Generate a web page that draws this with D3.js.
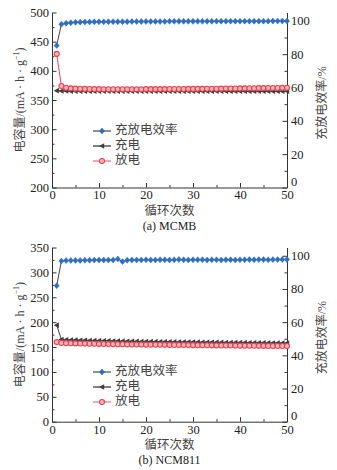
<!DOCTYPE html>
<html>
<head>
<meta charset="utf-8">
<script src="https://cdn.jsdelivr.net/npm/d3@7"></script>
<style>
  body { margin: 0; background: #fff; }
  svg { display: block; }
</style>
</head>
<body>
<svg id="chart" width="337" height="470"></svg>
<script>
// cycles 1..50
const cycles = d3.range(1, 51);

// (a) MCMB
const effA = [85.2, 98.0, 98.6, 98.9, 99.1, 99.2, 99.3, 99.3, 99.4, 99.4,
  99.4, 99.5, 99.5, 99.5, 99.5, 99.5, 99.6, 99.6, 99.6, 99.6,
  99.6, 99.6, 99.6, 99.6, 99.7, 99.7, 99.7, 99.7, 99.7, 99.7,
  99.7, 99.7, 99.7, 99.7, 99.8, 99.8, 99.8, 99.8, 99.8, 99.8,
  99.8, 99.8, 99.8, 99.8, 99.8, 99.8, 99.9, 99.9, 99.9, 99.9];
const chargeA = [366, 365.5, 365.5, 365, 365, 365, 365, 365, 365, 365,
  365, 365, 365, 365, 365, 365, 365, 365, 365, 365,
  365, 365, 365, 365, 365, 365, 365, 365, 365, 365,
  365, 365, 365, 365, 365, 365, 365, 365, 365, 365,
  365, 365, 365, 365, 365, 365, 365, 365, 365, 365];
const dischargeA = [429, 374, 371, 370, 369.5, 369.2, 369, 368.8, 368.7, 368.6,
  368.5, 368.5, 368.5, 368.5, 368.5, 368.5, 368.5, 368.5, 368.5, 368.6,
  368.6, 368.6, 368.7, 368.7, 368.8, 368.8, 368.9, 368.9, 369, 369,
  369.1, 369.1, 369.2, 369.3, 369.4, 369.5, 369.6, 369.7, 369.8, 369.9,
  370, 370.1, 370.2, 370.3, 370.4, 370.5, 370.6, 370.7, 370.8, 371];

// (b) NCM811
const effB = [82.0, 96.8, 97.1, 97.2, 97.2, 97.2, 97.3, 97.3, 97.4, 97.4,
  97.4, 97.4, 97.5, 98.1, 96.5, 97.3, 97.4, 97.5, 97.5, 97.6,
  97.5, 97.5, 97.6, 97.6, 97.5, 97.6, 97.8, 97.6, 97.5, 97.6,
  97.6, 97.6, 97.5, 97.6, 97.6, 97.5, 97.6, 97.6, 97.5, 97.6,
  97.6, 97.7, 97.6, 97.7, 97.7, 97.6, 97.7, 97.7, 97.8, 97.8];
const chargeB = [194, 165, 164.5, 164.2, 164, 163.7, 163.5, 163.2, 163, 162.8,
  162.6, 162.4, 162.2, 162, 161.8, 161.6, 161.5, 161.3, 161.2, 161,
  160.9, 160.8, 160.6, 160.5, 160.4, 160.3, 160.2, 160.1, 160, 159.9,
  159.8, 159.7, 159.6, 159.5, 159.4, 159.3, 159.2, 159.1, 159, 158.9,
  158.8, 158.7, 158.6, 158.5, 158.4, 158.3, 158.2, 158.1, 158, 158];
const dischargeB = [160, 158.2, 157.8, 157.5, 157.3, 157.1, 156.9, 156.7, 156.5, 156.3,
  156.1, 155.9, 155.8, 155.6, 155.5, 155.3, 155.2, 155.1, 155, 154.8,
  154.7, 154.6, 154.5, 154.4, 154.3, 154.2, 154.1, 154, 153.9, 153.8,
  153.7, 153.6, 153.5, 153.4, 153.3, 153.2, 153.1, 153, 152.9, 152.8,
  152.7, 152.6, 152.5, 152.4, 152.3, 152.2, 152.1, 152, 152, 152];

const legendLabels = ["充放电效率", "充电", "放电"];
const xTicks = [0, 10, 20, 30, 40, 50];
const rightTicks = [0, 20, 40, 60, 80, 100];

const svg = d3.select("#chart");
const numFont = "'Liberation Serif', 'Noto Sans CJK SC', serif";
const cjkFont = "'Liberation Serif', 'Noto Sans CJK SC', serif";
const axisColor = "#333";
const blue = "#2f6fc2", dark = "#3d3d3d", red = "#e8404e", redFill = "#f8b4ba";

function drawPanel(cfg) {
    const left = 52, right = 287;
    const x = d3.scaleLinear().domain([0, 50]).range([left, right]);
    const y = d3.scaleLinear().domain(cfg.yDomain).range([cfg.bottom, cfg.top]);
    const y2 = d3.scaleLinear().domain([0, 105]).range([cfg.bottom, cfg.top]);

    const g = svg.append("g");

    // minor ticks
    g.append("g").attr("transform", `translate(0,${cfg.bottom})`)
        .call(d3.axisBottom(x).tickValues(d3.range(5, 50, 10)).tickSize(-2.5).tickFormat(""))
        .call(s => s.select(".domain").remove());
    g.append("g").attr("transform", `translate(${left},0)`)
        .call(d3.axisLeft(y).tickValues(cfg.yMinor).tickSize(-2.5).tickFormat(""))
        .call(s => s.select(".domain").remove());
    g.append("g").attr("transform", `translate(${right},0)`)
        .call(d3.axisRight(y2).tickValues(d3.range(10, 101, 20)).tickSize(-2.5).tickFormat(""))
        .call(s => s.select(".domain").remove());

    // major axes
    g.append("g").attr("transform", `translate(0,${cfg.bottom})`)
        .call(d3.axisBottom(x).tickValues(xTicks).tickSize(-4.5).tickPadding(3).tickSizeOuter(0));
    g.append("g").attr("transform", `translate(${left},0)`)
        .call(d3.axisLeft(y).tickValues(cfg.yTicks).tickSize(-4.5).tickPadding(3).tickSizeOuter(0));
    const y2Axis = g.append("g").attr("transform", `translate(${right},0)`)
        .call(d3.axisRight(y2).tickValues(rightTicks).tickSize(-4.5).tickPadding(4).tickSizeOuter(0));

    g.selectAll(".domain, .tick line").attr("stroke", axisColor).attr("stroke-width", 1);
    g.selectAll(".tick text").attr("fill", "#222").style("font-family", numFont).style("font-size", "12.5px");
    // zero label on right axis sits slightly above
    y2Axis.selectAll(".tick text").filter(d => d === 0).attr("dy", "-0.15em");

    // axis titles
    g.append("text")
        .attr("transform", `translate(21,${(cfg.top + cfg.bottom) / 2}) rotate(-90)`)
        .attr("text-anchor", "middle").attr("dominant-baseline", "middle")
        .style("font-family", cjkFont).style("font-size", "12px").attr("fill", "#444")
        .call(t => {
            t.append("tspan").text("电容量/(mA · h · g");
            t.append("tspan").attr("dy", -4).style("font-size", "8px").text("−1");
            t.append("tspan").attr("dy", 4).text(")");
        });
    g.append("text")
        .attr("transform", `translate(323,${(cfg.top + cfg.bottom) / 2 + 3}) rotate(-90)`)
        .attr("text-anchor", "middle").attr("dominant-baseline", "middle")
        .style("font-family", cjkFont).style("font-size", "12px").attr("fill", "#444")
        .text("充放电效率/%");
    g.append("text")
        .attr("x", (left + right) / 2).attr("y", cfg.bottom + 27)
        .attr("text-anchor", "middle")
        .style("font-family", cjkFont).style("font-size", "12.5px").attr("fill", "#444")
        .text("循环次数");
    g.append("text")
        .attr("x", (left + right) / 2).attr("y", cfg.bottom + 42)
        .attr("text-anchor", "middle")
        .style("font-family", numFont).style("font-size", "12px").attr("fill", "#222")
        .text(cfg.caption);

    // series
    const series = [
        { values: cfg.charge, scale: y, color: dark, marker: "tri" },
        { values: cfg.discharge, scale: y, color: red, marker: "circle" },
        { values: cfg.eff, scale: y2, color: blue, marker: "diamond", lineColor: "#444" }
    ];
    series.forEach(s => {
        const pts = cycles.map((c, i) => [x(c), s.scale(s.values[i])]);
        g.append("path")
            .attr("d", d3.line()(pts))
            .attr("fill", "none")
            .attr("stroke", s.lineColor || s.color)
            .attr("stroke-width", 1);
        drawMarkers(g, pts, s.marker);
    });

    // legend
    const lg = g.append("g").attr("transform", `translate(93,${cfg.legendY})`);
    const legendItems = [
        { marker: "diamond", line: "#4a5566" },
        { marker: "tri", line: dark },
        { marker: "circle", line: "#f07a84" }
    ];
    legendItems.forEach((d, i) => {
        const row = lg.append("g").attr("transform", `translate(0,${i * 15})`);
        row.append("line").attr("x1", 0).attr("x2", 18).attr("y1", 0).attr("y2", 0)
            .attr("stroke", d.line).attr("stroke-width", 1.3);
        drawMarkers(row, [[9, 0]], d.marker);
        row.append("text").attr("x", 22).attr("y", 0).attr("dominant-baseline", "middle")
            .style("font-family", cjkFont).style("font-size", "12.5px").attr("fill", "#444")
            .text(legendLabels[i]);
    });
}

function drawMarkers(g, pts, type) {
    const m = g.append("g");
    pts.forEach(([px, py]) => {
        if (type === "diamond") {
            m.append("path")
                .attr("d", `M${px},${py - 3}L${px + 2.6},${py}L${px},${py + 3}L${px - 2.6},${py}Z`)
                .attr("fill", blue).attr("stroke", blue).attr("stroke-width", 0.5);
        } else if (type === "tri") {
            m.append("path")
                .attr("d", `M${px - 3},${py}L${px + 2.2},${py - 2.8}L${px + 2.2},${py + 2.8}Z`)
                .attr("fill", dark);
        } else {
            m.append("circle").attr("cx", px).attr("cy", py).attr("r", 2.5)
                .attr("fill", redFill).attr("stroke", red).attr("stroke-width", 1.1);
        }
    });
}

drawPanel({
    top: 12.5, bottom: 187.5,
    yDomain: [200, 500], yTicks: d3.range(200, 501, 50), yMinor: d3.range(225, 500, 50),
    eff: effA, charge: chargeA, discharge: dischargeA,
    legendY: 131, caption: "(a) MCMB"
});
drawPanel({
    top: 247.5, bottom: 421.7,
    yDomain: [0, 350], yTicks: d3.range(0, 351, 50), yMinor: d3.range(25, 350, 50),
    eff: effB, charge: chargeB, discharge: dischargeB,
    legendY: 372, caption: "(b) NCM811"
});
</script>
</body>
</html>
